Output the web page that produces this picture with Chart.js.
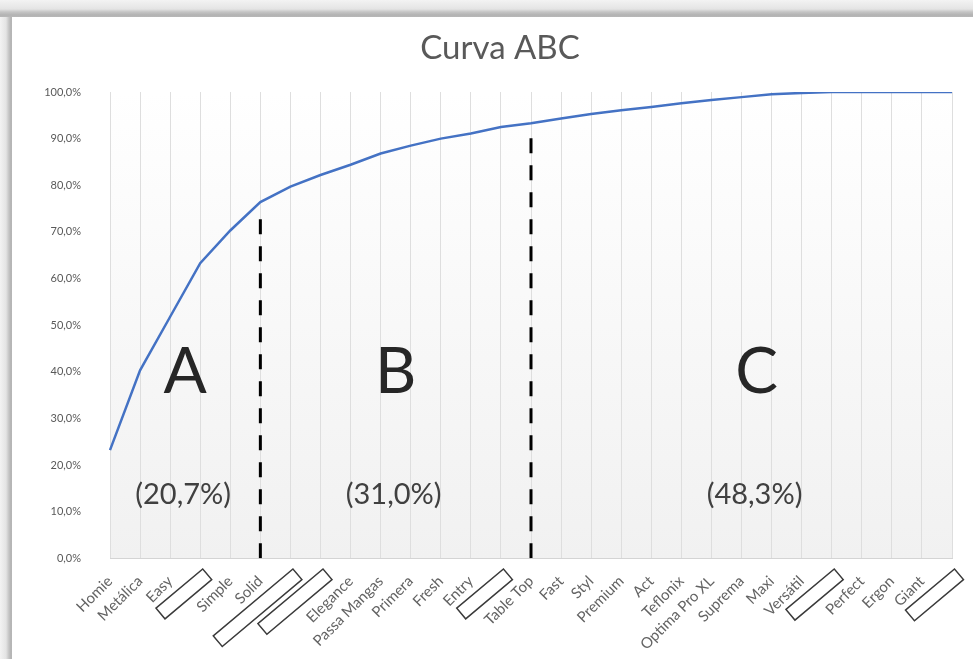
<!DOCTYPE html>
<html lang="pt-BR">
<head>
<meta charset="utf-8">
<title>Curva ABC</title>
<script src="https://cdn.jsdelivr.net/npm/chart.js@4/dist/chart.umd.min.js"></script>
<style>
  html, body { margin: 0; padding: 0; }
  body {
    width: 973px; height: 659px; overflow: hidden;
    background:
      linear-gradient(to bottom, #f3f3f3 0px, #e4e4e4 9px, #c4c4c4 12px, #b3b3b3 15px, #b8b8b8 17px) top left / 100% 17px no-repeat,
      linear-gradient(to right, #f3f3f3 0px, #e4e4e4 6px, #c4c4c4 9px, #b3b3b3 11px, #b8b8b8 12px) top left / 12px 100% no-repeat,
      #ffffff;
  }
  #wrap { position: absolute; left: 0; top: 0; width: 973px; height: 659px; }
  #abc { display: block; }
</style>
</head>
<body>
<div id="wrap"><canvas id="abc" width="973" height="659"></canvas></div>
<script>
// Products ordered by share; '' marks a name that is hidden on the axis
const categories = ['Homie', 'Metálica', 'Easy', '', 'Simple', 'Solid', '', '', 'Elegance',
  'Passa Mangas', 'Primera', 'Fresh', 'Entry', '', 'Table Top', 'Fast', 'Styl', 'Premium',
  'Act', 'Teflonix', 'Optima Pro XL', 'Suprema', 'Maxi', 'Versátil', '', 'Perfect', 'Ergon',
  'Giant', ''];

// Cumulative share (%)
const cumulative = [23.2, 40.3, 51.8, 63.3, 70.3, 76.4, 79.7, 82.2, 84.4, 86.8, 88.5, 90.0,
  91.1, 92.5, 93.3, 94.3, 95.3, 96.1, 96.8, 97.6, 98.3, 98.9, 99.5, 99.8, 100, 100, 100, 100, 100];

// Class sizes (number of products in A, B, C)
const classNames = ['A', 'B', 'C'];
const classSizes = [6, 9, 14];

// Height (%) reached by the dashed cut-off lines
const cutoffHeights = [74.6, 92.5];

// Y tick values
const yTicks = [0, 10, 20, 30, 40, 50, 60, 70, 80, 90, 100];

const chartTitle = 'Curva ABC';

const pt = v => v.toFixed(1).replace('.', ',');

// index of the last product of each class (A and B)
const cutIdx = [];
let run = 0;
classSizes.slice(0, 2).forEach(n => { run += n; cutIdx.push(run - 1); });

const total = classSizes.reduce((a, b) => a + b, 0);
const shareLabels = classSizes.map(n => '(' + pt(n / total * 100) + '%)');

const cutDatasets = cutIdx.map((idx, k) => ({
  type: 'line',
  data: [{ x: categories[idx], y: 0 }, { x: categories[idx], y: cutoffHeights[k] }],
  borderColor: '#000000',
  borderWidth: 3,
  borderDash: [15, 12],
  pointRadius: 0,
  fill: false,
  order: 2
}));

const FONT = 'Lato, "Open Sans", "DejaVu Sans", sans-serif';

// soft fill behind the plot area
const plotFill = {
  id: 'plotFill',
  beforeDraw(chart) {
    const { ctx, chartArea: a } = chart;
    const g = ctx.createLinearGradient(0, a.top, 0, a.bottom);
    g.addColorStop(0, '#ffffff');
    g.addColorStop(1, '#f1f1f1');
    ctx.save();
    ctx.fillStyle = g;
    ctx.fillRect(a.left, a.top, a.right - a.left, a.bottom - a.top);
    ctx.restore();
  }
};

// chart title, centred on the whole card
const cardTitle = {
  id: 'cardTitle',
  afterDraw(chart) {
    const { ctx } = chart;
    ctx.save();
    ctx.fillStyle = '#595959';
    ctx.font = '33px ' + FONT;
    ctx.textAlign = 'center';
    ctx.textBaseline = 'middle';
    ctx.fillText(chartTitle, 500, 48);
    ctx.restore();
  }
};

// class letters and their shares
const classText = {
  id: 'classText',
  afterDatasetsDraw(chart) {
    const { ctx, scales: { x, y } } = chart;
    const centers = [2.5, 9.5, 21.5];
    ctx.save();
    ctx.textAlign = 'center';
    ctx.textBaseline = 'middle';
    classNames.forEach((name, i) => {
      const cx = x.getPixelForValue(centers[i]);
      ctx.fillStyle = '#262626';
      ctx.font = '64px ' + FONT;
      ctx.fillText(name, cx, y.getPixelForValue(39.8));
      ctx.fillStyle = '#404040';
      ctx.font = '29px ' + FONT;
      ctx.fillText(shareLabels[i], cx - 2, y.getPixelForValue(13.6));
    });
    ctx.restore();
  }
};

// outlined boxes over the hidden product names
const hiddenNames = {
  id: 'hiddenNames',
  afterDraw(chart) {
    const { ctx, scales: { x } } = chart;
    const lengths = { 3: 61, 6: 104, 7: 85, 13: 61, 24: 63, 28: 64 };
    ctx.save();
    ctx.strokeStyle = '#3a3a3a';
    ctx.lineWidth = 1.5;
    ctx.fillStyle = '#ffffff';
    Object.keys(lengths).forEach(k => {
      const px = x.getPixelForValue(Number(k));
      ctx.save();
      ctx.translate(px + 7, x.top + 16);
      ctx.rotate(-40 * Math.PI / 180);
      ctx.beginPath();
      ctx.rect(-lengths[k], -7, lengths[k], 14);
      ctx.fill();
      ctx.stroke();
      ctx.restore();
    });
    ctx.restore();
  }
};

new Chart(document.getElementById('abc'), {
  type: 'line',
  data: {
    labels: categories,
    datasets: [{
      data: cumulative,
      borderColor: '#4472C4',
      borderWidth: 2.5,
      pointRadius: 0,
      tension: 0,
      fill: false,
      order: 1
    }, ...cutDatasets]
  },
  options: {
    responsive: false,
    animation: false,
    devicePixelRatio: 1,
    layout: { padding: { left: 12, right: 21, top: 92, bottom: 0 } },
    plugins: {
      legend: { display: false },
      tooltip: { enabled: false },
      title: { display: false }
    },
    scales: {
      x: {
        type: 'category',
        offset: false,
        grid: { display: true, color: '#dedede', lineWidth: 1, drawTicks: false },
        border: { display: true, color: '#d4d4d4', width: 1 },
        ticks: {
          autoSkip: false,
          minRotation: 45,
          maxRotation: 45,
          padding: 14,
          color: '#636363',
          font: { family: FONT, size: 15 }
        },
        afterFit(s) {
          s.height = 100.7;
          s.paddingLeft = 0;
          s.paddingRight = 0;
        }
      },
      y: {
        min: 0,
        max: 100,
        afterBuildTicks(s) { s.ticks = yTicks.map(v => ({ value: v })); },
        grid: { display: false, drawTicks: false },
        border: { display: false },
        ticks: {
          padding: 29,
          color: '#595959',
          font: { family: FONT, size: 11 },
          callback: v => pt(v) + '%'
        },
        afterFit(s) { s.width = 98; }
      }
    }
  },
  plugins: [plotFill, classText, hiddenNames, cardTitle]
});
</script>
</body>
</html>
